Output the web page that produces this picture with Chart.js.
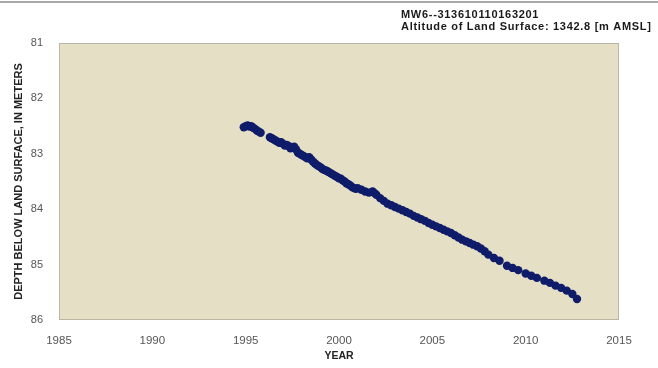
<!DOCTYPE html>
<html>
<head>
<meta charset="utf-8">
<title>MW6 water level</title>
<script src="https://cdn.jsdelivr.net/npm/chart.js"></script>
<style>
  html, body { margin: 0; padding: 0; background: #ffffff; }
  #wrap { width: 658px; height: 368px; position: relative; }
</style>
</head>
<body>
<div id="wrap"><canvas id="levelChart"></canvas></div>
<script>
// measurement dates (decimal year) and depth to water below land surface (m)
const years = [
  1994.9, 1995.0, 1995.1, 1995.2, 1995.3, 1995.4, 1995.5, 1995.6, 1995.7, 1995.8,
  1996.3, 1996.4, 1996.5, 1996.6, 1996.7, 1996.8, 1996.9, 1997.0, 1997.1, 1997.2,
  1997.3, 1997.4, 1997.5, 1997.6, 1997.7, 1997.8, 1997.9, 1998.0, 1998.1, 1998.2,
  1998.3, 1998.4, 1998.5, 1998.6, 1998.7, 1998.8, 1998.9, 1999.0, 1999.1, 1999.2,
  1999.3, 1999.4, 1999.5, 1999.6, 1999.7, 1999.8, 1999.9, 2000.0, 2000.1, 2000.2,
  2000.3, 2000.4, 2000.5, 2000.6, 2000.7, 2000.8, 2000.9, 2001.0, 2001.2, 2001.4,
  2001.6, 2001.8, 2001.9, 2002.0, 2002.2, 2002.4, 2002.6, 2002.8, 2003.0, 2003.2,
  2003.4, 2003.6, 2003.8, 2004.0, 2004.2, 2004.4, 2004.6, 2004.8, 2005.0, 2005.2,
  2005.4, 2005.6, 2005.8, 2006.0, 2006.2, 2006.4, 2006.6, 2006.8, 2007.0, 2007.2,
  2007.4, 2007.6, 2007.8, 2008.0, 2008.3, 2008.6, 2009.0, 2009.3, 2009.6, 2010.0,
  2010.3, 2010.6, 2011.0, 2011.3, 2011.6, 2011.9, 2012.2, 2012.5, 2012.75
];
const depths = [
  82.52, 82.50, 82.49, 82.51, 82.50, 82.53, 82.55, 82.58, 82.60, 82.62,
  82.70, 82.72, 82.74, 82.76, 82.78, 82.80, 82.79, 82.82, 82.85, 82.84,
  82.86, 82.90, 82.88, 82.87, 82.92, 82.98, 83.00, 83.02, 83.04, 83.06,
  83.08, 83.06, 83.10, 83.14, 83.17, 83.20, 83.22, 83.24, 83.27, 83.29,
  83.30, 83.32, 83.34, 83.36, 83.38, 83.40, 83.42, 83.44, 83.45, 83.48,
  83.50, 83.53, 83.55, 83.57, 83.60, 83.62, 83.63, 83.62, 83.65, 83.68,
  83.70, 83.68, 83.71, 83.74, 83.80, 83.85, 83.90, 83.93, 83.96, 83.99,
  84.02, 84.05, 84.08, 84.12, 84.15, 84.18, 84.21, 84.25, 84.28, 84.31,
  84.34, 84.37, 84.40, 84.43, 84.47, 84.51, 84.55, 84.58, 84.61, 84.64,
  84.67, 84.71, 84.76, 84.82, 84.88, 84.93, 85.02, 85.06, 85.10, 85.16,
  85.20, 85.24, 85.29, 85.33, 85.38, 85.42, 85.47, 85.53, 85.62
];
const yearTicks = [1985, 1990, 1995, 2000, 2005, 2010, 2015];
const depthTicks = [81, 82, 83, 84, 85, 86];
const wellName = 'MW6--313610110163201';
const altitudeNote = 'Altitude of Land Surface: 1342.8 [m AMSL]';

const points = years.map((y, i) => ({ x: y, y: depths[i] }));
const fontFamily = '"Liberation Sans", Arial, sans-serif';

// beige plot background, header text and thin rule along the top
const decor = {
  id: 'decor',
  beforeDraw(chart) {
    const { ctx, chartArea: a } = chart;
    ctx.save();
    ctx.fillStyle = '#e4dfc5';
    ctx.fillRect(a.left, a.top, a.right - a.left, a.bottom - a.top);
    ctx.strokeStyle = '#a8a8a8';
    ctx.lineWidth = 2;
    ctx.beginPath();
    ctx.moveTo(0, 2);
    ctx.lineTo(chart.width, 2);
    ctx.stroke();
    ctx.fillStyle = '#1a1a1a';
    ctx.font = 'bold 11px ' + fontFamily;
    ctx.letterSpacing = '0.7px';
    ctx.textBaseline = 'middle';
    ctx.fillText(wellName, 401, 15);
    ctx.fillText(altitudeNote, 401, 27);
    ctx.restore();
  },
  afterDraw(chart) {
    const { ctx, chartArea: a } = chart;
    ctx.save();
    ctx.strokeStyle = '#b9b6a6';
    ctx.lineWidth = 1;
    ctx.strokeRect(a.left + 0.5, a.top + 0.5, a.right - a.left - 1, a.bottom - a.top - 1);
    ctx.restore();
  }
};

new Chart(document.getElementById('levelChart'), {
  type: 'scatter',
  data: {
    datasets: [{
      data: points,
      backgroundColor: '#0e1c6a',
      borderColor: '#0e1c6a',
      pointRadius: 4.2,
      pointBorderWidth: 0
    }]
  },
  options: {
    responsive: true,
    maintainAspectRatio: false,
    animation: false,
    layout: { padding: { top: 43, right: 39, bottom: 0, left: 0 } },
    plugins: { legend: { display: false }, tooltip: { enabled: false } },
    scales: {
      x: {
        type: 'linear',
        min: 1985,
        max: 2015,
        afterBuildTicks: (s) => { s.ticks = yearTicks.map(v => ({ value: v })); },
        afterFit: (s) => { s.height = 48; },
        grid: { display: false, drawTicks: false },
        border: { display: false },
        ticks: {
          padding: 14,
          color: '#555',
          font: { family: fontFamily, size: 11.5 },
          callback: (v) => String(v)
        },
        title: {
          display: true,
          text: 'YEAR',
          color: '#222',
          padding: { top: 0, bottom: 6 },
          font: { family: fontFamily, size: 10.5, weight: 'bold' }
        }
      },
      y: {
        type: 'linear',
        reverse: true,
        min: 81,
        max: 86,
        afterBuildTicks: (s) => { s.ticks = depthTicks.map(v => ({ value: v })); },
        afterFit: (s) => { s.width = 59; },
        grid: { display: false, drawTicks: false },
        border: { display: false },
        ticks: {
          padding: 16,
          color: '#555',
          font: { family: fontFamily, size: 11 },
          callback: (v) => String(v)
        },
        title: {
          display: true,
          text: 'DEPTH BELOW LAND SURFACE, IN METERS',
          color: '#222',
          padding: { top: 12, bottom: 0 },
          font: { family: fontFamily, size: 11, weight: 'bold' }
        }
      }
    }
  },
  plugins: [decor]
});
</script>
</body>
</html>
